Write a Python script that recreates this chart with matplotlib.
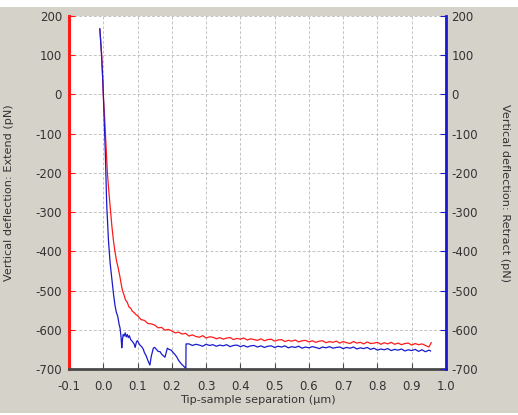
import matplotlib
matplotlib.use("Agg")
import matplotlib.pyplot as plt
from matplotlib.patches import Rectangle

# ---- data ----
extend_x = [-0.010, -0.007, -0.004, 0.000, 0.004, 0.008, 0.012, 0.016, 0.020, 0.025,
            0.030, 0.034, 0.039, 0.043, 0.048, 0.052, 0.056, 0.060, 0.065, 0.070,
            0.075, 0.080, 0.085, 0.090, 0.095,
            0.10, 0.11, 0.12, 0.13, 0.14, 0.15, 0.16, 0.17, 0.18, 0.19,
            0.20, 0.21, 0.22, 0.23, 0.24, 0.25, 0.26, 0.27, 0.28, 0.29,
            0.30, 0.31, 0.32, 0.33, 0.34, 0.35, 0.36, 0.37, 0.38, 0.39,
            0.40, 0.41, 0.42, 0.43, 0.44, 0.45, 0.46, 0.47, 0.48, 0.49,
            0.50, 0.51, 0.52, 0.53, 0.54, 0.55, 0.56, 0.57, 0.58, 0.59,
            0.60, 0.61, 0.62, 0.63, 0.64, 0.65, 0.66, 0.67, 0.68, 0.69,
            0.70, 0.71, 0.72, 0.73, 0.74, 0.75, 0.76, 0.77, 0.78, 0.79,
            0.80, 0.81, 0.82, 0.83, 0.84, 0.85, 0.86, 0.87, 0.88, 0.89,
            0.90, 0.91, 0.92, 0.93, 0.94, 0.95, 0.957]
extend_y = [165, 130, 90, 0, -60, -130, -200, -245, -285, -335,
            -375, -400, -426, -440, -462, -482, -500, -510, -524, -530,
            -542, -545, -553, -556, -561,
            -564, -574, -576, -584, -585, -588, -595, -594, -601, -599,
            -603, -608, -606, -611, -609, -616, -613, -617, -619, -615,
            -621, -618, -619, -623, -620, -624, -621, -620, -625, -622,
            -624, -621, -626, -623, -625, -627, -623, -628, -625, -624,
            -629, -626, -625, -630, -627, -629, -626, -631, -628, -627,
            -631, -628, -632, -629, -628, -633, -630, -632, -629, -634,
            -630, -633, -635, -630, -634, -632, -636, -631, -635, -634,
            -632, -637, -633, -636, -632, -637, -634, -638, -635, -634,
            -639, -635, -638, -636, -640, -644, -633]

retract_x = [-0.010, -0.008, -0.005, -0.001, 0.002, 0.006, 0.010, 0.015, 0.020, 0.025,
             0.030, 0.034, 0.038, 0.042, 0.046, 0.049, 0.052, 0.054, 0.056, 0.058,
             0.061, 0.064, 0.067, 0.070, 0.073, 0.076, 0.080, 0.085, 0.090, 0.093,
             0.097, 0.100, 0.104, 0.108, 0.112, 0.117, 0.120, 0.125, 0.130, 0.136,
             0.140, 0.146, 0.150, 0.155, 0.160, 0.166, 0.170, 0.175, 0.180, 0.187,
             0.192, 0.198, 0.204, 0.210, 0.215, 0.219, 0.225, 0.230, 0.235, 0.238,
             0.241, 0.2415,
             0.25, 0.26, 0.27, 0.28, 0.29,
             0.30, 0.31, 0.32, 0.33, 0.34, 0.35, 0.36, 0.37, 0.38, 0.39,
             0.40, 0.41, 0.42, 0.43, 0.44, 0.45, 0.46, 0.47, 0.48, 0.49,
             0.50, 0.51, 0.52, 0.53, 0.54, 0.55, 0.56, 0.57, 0.58, 0.59,
             0.60, 0.61, 0.62, 0.63, 0.64, 0.65, 0.66, 0.67, 0.68, 0.69,
             0.70, 0.71, 0.72, 0.73, 0.74, 0.75, 0.76, 0.77, 0.78, 0.79,
             0.80, 0.81, 0.82, 0.83, 0.84, 0.85, 0.86, 0.87, 0.88, 0.89,
             0.90, 0.91, 0.92, 0.93, 0.94, 0.95, 0.955]
retract_y = [168, 140, 100, 30, -50, -150, -280, -370, -430, -470,
             -510, -537, -555, -565, -585, -596, -620, -646, -625, -612,
             -616, -608, -618, -612, -620, -615, -625, -630, -636, -645,
             -630, -628, -635, -640, -643, -650, -658, -666, -678, -690,
             -668, -647, -645, -650, -655, -656, -662, -666, -670, -647,
             -650, -652, -658, -664, -670, -677, -684, -689, -693, -696,
             -698, -636,
             -636, -640, -637, -639, -642,
             -637, -640, -638, -642, -639, -641, -638, -643, -640, -639,
             -643, -640, -644, -641, -640, -644, -641, -645, -642, -641,
             -645, -642, -644, -641, -646, -643, -645, -642, -647, -644,
             -646, -643, -645, -648, -644, -646, -643, -647, -645, -644,
             -648, -645, -647, -644, -649, -646, -648, -645, -650, -647,
             -652, -649, -651, -648, -653, -650, -652, -649, -654, -651,
             -653, -650, -655, -651, -656, -652, -654]

x_ticks = [-0.1, 0.0, 0.1, 0.2, 0.3, 0.4, 0.5, 0.6, 0.7, 0.8, 0.9, 1.0]
y_ticks = [-700, -600, -500, -400, -300, -200, -100, 0, 100, 200]

BG = "#d5d2ca"
TXT = "#333333"
RED = "#ff1a1a"
BLUE = "#1a1acc"
FS = 8.5
LFS = 8.1

plt.rcParams['font.family'] = ['DejaVu Sans']

W, H = 518, 415
fig = plt.figure(figsize=(W / 100, H / 100), dpi=100)
fig.patch.set_facecolor("white")
fig.patches.append(Rectangle((0, 2 / H), 1, 1 - 9 / H, transform=fig.transFigure,
                             facecolor=BG, edgecolor="none", zorder=-10))

ax = fig.add_axes([69 / W, 46 / H, 377 / W, 353 / H])
ax.set_facecolor("white")
ax2 = ax.twinx()

ax.set_xlim(-0.1, 1.0)
ax.set_ylim(-700, 200)
ax2.set_ylim(-700, 200)

ax.set_xticks(x_ticks)
ax.set_xticklabels([f"{t:.1f}" for t in x_ticks])
ax.set_yticks(y_ticks)
ax.set_yticklabels([str(t) for t in y_ticks])
ax2.set_yticks(y_ticks)
ax2.set_yticklabels([str(t) for t in y_ticks])

ax.grid(True, color="#c4c4c4", linestyle=(0, (3, 2)), linewidth=0.7)
ax.set_axisbelow(True)

ax.plot(extend_x, extend_y, color=RED, linewidth=0.9, zorder=3)
ax2.plot(retract_x, retract_y, color=BLUE, linewidth=0.9, zorder=3)

for a in (ax, ax2):
    for s in ('top', 'left', 'right', 'bottom'):
        a.spines[s].set_visible(False)

ax.spines['left'].set_visible(True)
ax.spines['left'].set_color(RED)
ax.spines['left'].set_linewidth(2.2)
ax.spines['bottom'].set_visible(True)
ax.spines['bottom'].set_color("#4a4a4a")
ax.spines['bottom'].set_linewidth(2.0)
ax2.spines['right'].set_visible(True)
ax2.spines['right'].set_color(BLUE)
ax2.spines['right'].set_linewidth(2.0)

ax.tick_params(axis='x', direction='in', length=4, color="#4a4a4a", labelsize=FS,
               labelcolor=TXT, pad=8)
ax.tick_params(axis='y', direction='in', length=4, color=RED, labelsize=FS,
               labelcolor=TXT, pad=5)
ax2.tick_params(axis='y', direction='in', length=4, color=BLUE, labelsize=FS,
                labelcolor=TXT, pad=4)

cy = 1 - (16 + 369) / 2 / H
fig.text((69 + 446) / 2 / W, 1 - 400 / H, "Tip-sample separation (µm)",
         fontsize=LFS, color=TXT, ha='center', va='center')
fig.text(9 / W, cy, "Vertical deflection: Extend (pN)", fontsize=LFS, color=TXT,
         rotation=90, ha='center', va='center')
fig.text(505 / W, cy, "Vertical deflection: Retract (pN)", fontsize=LFS, color=TXT,
         rotation=-90, ha='center', va='center')

fig.savefig("out.png", dpi=100, facecolor=fig.get_facecolor())
